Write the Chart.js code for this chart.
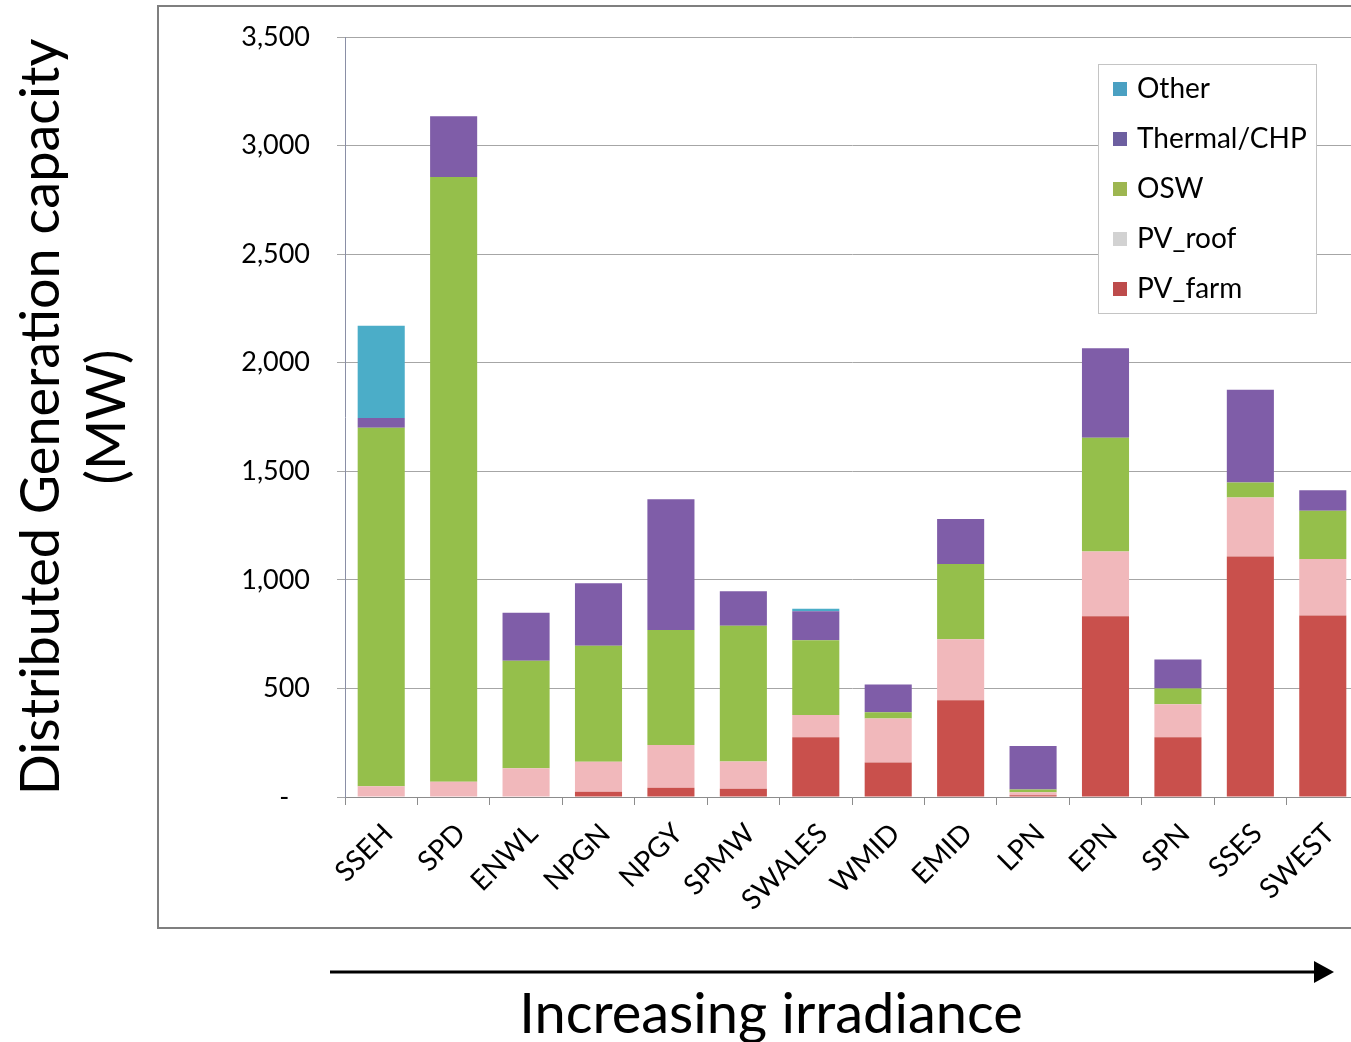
<!DOCTYPE html>
<html>
<head>
<meta charset="utf-8">
<script src="https://cdn.jsdelivr.net/npm/chart.js@4.4.1/dist/chart.umd.min.js"></script>
<style>
    html, body { margin: 0; padding: 0; background: #fff; overflow: hidden; }
    #wrap { width: 1400px; height: 1042px; position: relative; }
</style>
</head>
<body>
<div id="wrap"><canvas id="dgChart"></canvas></div>
<script>
// Network areas, ordered by increasing irradiance
const categories = ['SSEH', 'SPD', 'ENWL', 'NPGN', 'NPGY', 'SPMW', 'SWALES', 'WMID', 'EMID', 'LPN', 'EPN', 'SPN', 'SSES', 'SWEST'];

// MW per technology (stacked bottom -> top)
const pvFarm  = [0, 0, 0, 24, 43, 38, 275, 159, 446, 8, 832, 275, 1107, 836];
const pvRoof  = [50, 70, 132, 138, 196, 126, 103, 203, 280, 14, 299, 152, 272, 260];
const osw     = [1650, 2785, 496, 535, 530, 625, 344, 28, 347, 13, 523, 73, 69, 222];
const thermal = [45, 280, 221, 287, 602, 158, 134, 128, 207, 200, 413, 133, 428, 95];
const other   = [425, 0, 0, 0, 0, 0, 11, 0, 0, 0, 0, 0, 0, 0];

const yMax = 3500;
const yStep = 500;

const fontFamily = "Lato, 'Open Sans', sans-serif";

// outer chart border (cut off at the right like the original)
const framePlugin = {
    id: 'frame',
    beforeDraw(chart) {
        const ctx = chart.ctx;
        ctx.save();
        ctx.strokeStyle = '#7f7f7f';
        ctx.lineWidth = 2;
        ctx.strokeRect(158, 6, 1300, 922);
        ctx.restore();
    }
};

// legend box drawn over the plot, top right
const legendPlugin = {
    id: 'legendBox',
    afterDatasetsDraw(chart) {
        const ctx = chart.ctx;
        const x = 1098, y = 64, w = 218, h = 249;
        ctx.save();
        ctx.fillStyle = '#ffffff';
        ctx.fillRect(x, y, w, h);
        ctx.strokeStyle = '#c4c4c4';
        ctx.lineWidth = 1;
        ctx.strokeRect(x + 0.5, y + 0.5, w, h);
        const items = chart.data.datasets.slice().reverse();
        items.forEach((ds, i) => {
            const cy = y + 25 + i * 50;
            ctx.fillStyle = ds.legendColor;
            ctx.fillRect(x + 15, cy - 7, 14, 14);
            ctx.fillStyle = '#000';
            ctx.font = '28px ' + fontFamily;
            ctx.textBaseline = 'middle';
            ctx.fillText(ds.label, x + 39, cy);
        });
        ctx.restore();
    }
};

// arrow + caption under the chart: "Increasing irradiance"
const arrowPlugin = {
    id: 'arrow',
    afterDraw(chart) {
        const ctx = chart.ctx;
        const y = 972;
        ctx.save();
        ctx.strokeStyle = '#000';
        ctx.lineWidth = 3;
        ctx.beginPath();
        ctx.moveTo(330, y);
        ctx.lineTo(1318, y);
        ctx.stroke();
        ctx.fillStyle = '#000';
        ctx.beginPath();
        ctx.moveTo(1334, y);
        ctx.lineTo(1314, y - 11);
        ctx.lineTo(1314, y + 11);
        ctx.closePath();
        ctx.fill();

        ctx.font = '56px ' + fontFamily;
        ctx.textAlign = 'center';
        ctx.textBaseline = 'alphabetic';
        ctx.fillText('Increasing irradiance', 771, 1033);
        ctx.restore();
    }
};

function makeSet(label, data, color, legendColor) {
    return {
        label: label,
        data: data,
        backgroundColor: color,
        legendColor: legendColor,
        borderWidth: 0,
        barPercentage: 0.65,
        categoryPercentage: 1.0
    };
}

new Chart(document.getElementById('dgChart'), {
    type: 'bar',
    data: {
        labels: categories,
        datasets: [
            makeSet('PV_farm', pvFarm, '#c9504c', '#bd4b4b'),
            makeSet('PV_roof', pvRoof, '#f1b8bb', '#d2d2d2'),
            makeSet('OSW', osw, '#95bf4b', '#9db650'),
            makeSet('Thermal/CHP', thermal, '#7f5da8', '#6d5fa0'),
            makeSet('Other', other, '#4badc8', '#4aa0c2')
        ]
    },
    options: {
        responsive: true,
        maintainAspectRatio: false,
        animation: false,
        layout: {
            padding: { top: 37, right: 41, bottom: 0, left: 0 }
        },
        plugins: {
            legend: { display: false },
            tooltip: { enabled: false }
        },
        scales: {
            x: {
                stacked: true,
                afterFit: (scale) => { scale.height = 245; },
                grid: {
                    drawOnChartArea: false,
                    drawTicks: true,
                    tickLength: 8,
                    color: '#8c8c8c',
                    offset: true
                },
                border: { color: '#8c8c8c', width: 1 },
                ticks: {
                    autoSkip: false,
                    minRotation: 45,
                    maxRotation: 45,
                    padding: 12,
                    labelOffset: 7,
                    color: '#000',
                    font: { size: 28, family: fontFamily }
                }
            },
            y: {
                stacked: true,
                min: 0,
                max: yMax,
                afterFit: (scale) => {
                    scale.width = 345;
                    // tick padding would otherwise push the plot top down
                    scale.paddingTop = 0;
                },
                grid: {
                    color: '#a6a6a6',
                    tickLength: 8
                },
                border: { color: '#8a8fa6', width: 1 },
                ticks: {
                    stepSize: yStep,
                    padding: 27,
                    color: '#000',
                    font: { size: 27, family: fontFamily },
                    callback: (v) => v === 0 ? '-   ' : v.toLocaleString('en-US')
                },
                title: {
                    display: true,
                    text: ['Distributed Generation capacity', '(MW)'],
                    color: '#000',
                    padding: { top: 9, bottom: 0 },
                    font: { size: 54, family: fontFamily, lineHeight: 1.22 }
                }
            }
        }
    },
    plugins: [framePlugin, legendPlugin, arrowPlugin]
});
</script>
</body>
</html>
